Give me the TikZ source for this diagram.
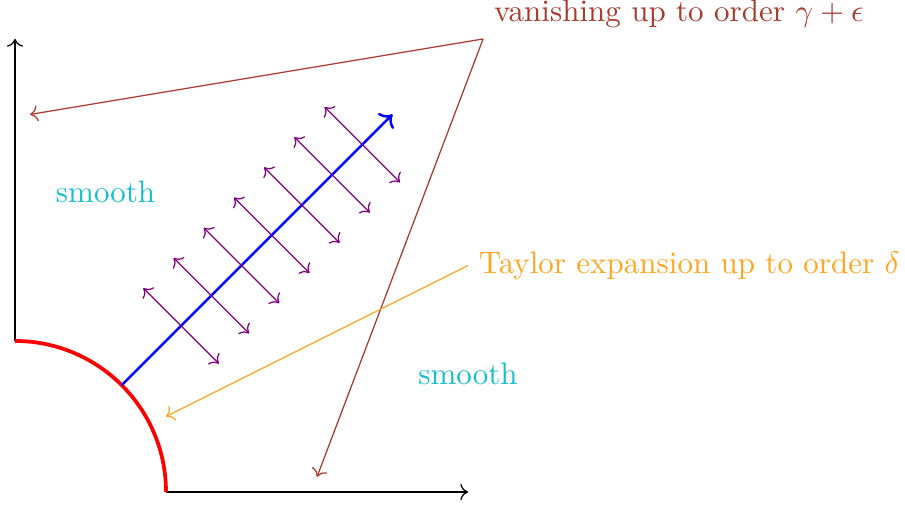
\documentclass[tikz,border=0pt]{standalone}
\usetikzlibrary{arrows.meta, positioning, calc}
\definecolor{cbrown}{HTML}{A83A2C}
\definecolor{corange}{HTML}{FFA520}
\definecolor{ccyan}{HTML}{17BECF}
\definecolor{cpurple}{HTML}{800080}
\tikzset{
  axis/.style={->, draw=black},
  pointer/.style={->, draw=#1},
  pointer/.default=cbrown,
  note/.style={text=#1},
  note/.default=ccyan,
}

\begin{document}
\begin{tikzpicture}[x=1.71cm, y=1.71cm,
  normal/.style={<->, draw=cpurple},
  ray/.style={->, draw=blue, thick}]
  \useasboundingbox (-0.0993,-0.0927) rectangle (5.894,3.258);
  % axes and the boundary arc
  \coordinate (y0) at (0,1);
  \coordinate (y1) at (0,3);
  \coordinate (x0) at (1,0);
  \coordinate (x1) at (3,0);
  \draw[axis] (y0) -- (y1);
  \draw[axis] (x0) -- (x1);
  \draw[red, very thick] (y0) arc[start angle=90, end angle=0, radius=1];
  % normal ray with the transverse arrows
  \coordinate (foot) at (45:1);
  \coordinate (tip) at (2.5,2.5);
  \draw[ray] (foot) -- (tip);
  \foreach \i [evaluate=\i as \t using 0.9+0.2*\i] in {1,...,7} {
    \coordinate (n\i a) at (\t-0.25,\t+0.25);
    \coordinate (n\i b) at (\t+0.25,\t-0.25);
    \draw[normal] (n\i a) -- (n\i b);
  }
  % labels
  \node[note] (s1) at (0.6,1.99) {smooth};
  \node[note] (s2) at (3,0.78) {smooth};
  \node[note=cbrown, anchor=south west] (van) at (3.1,3) {vanishing up to order $\gamma+\epsilon$};
  \node[note=corange, anchor=west] (tay) at (3,1.5) {Taylor expansion up to order $\delta$};
  \coordinate (v1) at (0.1,2.5);
  \coordinate (v2) at (2,0.1);
  \coordinate (t1) at (1,0.5);
  \draw[pointer] (van.south west) -- (v1);
  \draw[pointer] (van.south west) -- (v2);
  \draw[pointer=corange] (tay.west) -- (t1);
\end{tikzpicture}
\end{document}
